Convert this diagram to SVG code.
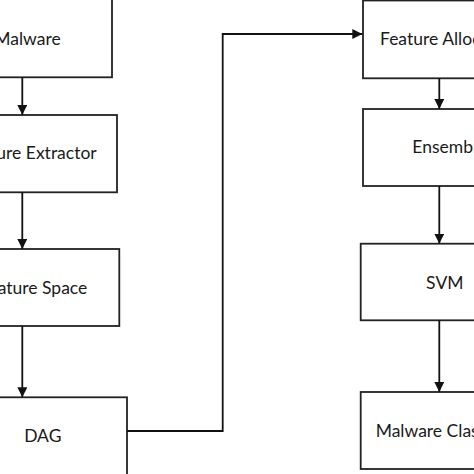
<svg xmlns="http://www.w3.org/2000/svg" width="474" height="474" viewBox="0 0 474 474">
  <defs>
    <style>
      .box { fill: #ffffff; stroke: #222222; stroke-width: 1.8; }
      .lbl { font-family: Lato, "Liberation Sans", sans-serif; font-size: 17.5px; fill: #1a1a1a; }
      .edge { fill: none; stroke: #111111; stroke-width: 1.8; }
    </style>
    <marker id="arrow" markerUnits="userSpaceOnUse" markerWidth="11" markerHeight="11" refX="10" refY="5" orient="auto">
      <path d="M0,0 L10,5 L0,10 Z" fill="#111111"/>
    </marker>
  </defs>
  <rect x="0" y="0" width="474" height="474" fill="#ffffff"/>

  <g id="node-malware">
    <rect class="box" x="-70" y="-1.5" width="182" height="78.8"/>
    <text class="lbl" x="60.7" y="44.8" text-anchor="end">Malware</text>
  </g>
  <g id="node-feature-extractor">
    <rect class="box" x="-70" y="115" width="187" height="77.3"/>
    <text class="lbl" x="96.7" y="159.2" text-anchor="end">Feature Extractor</text>
  </g>
  <g id="node-feature-space">
    <rect class="box" x="-70" y="249" width="189.3" height="77"/>
    <text class="lbl" x="87.3" y="293.8" text-anchor="end">Feature Space</text>
  </g>
  <g id="node-dag">
    <rect class="box" x="-70" y="397.3" width="197" height="100"/>
    <text class="lbl" x="42.8" y="441.8" text-anchor="middle">DAG</text>
  </g>

  <g id="node-feature-allocation">
    <rect class="box" x="363" y="0.5" width="170" height="77.8"/>
    <text class="lbl" x="380" y="45.2">Feature Allocation</text>
  </g>
  <g id="node-ensemble">
    <rect class="box" x="363" y="109" width="170" height="77"/>
    <text class="lbl" x="412.3" y="153.2">Ensemble</text>
  </g>
  <g id="node-svm">
    <rect class="box" x="360.7" y="243.7" width="172" height="76.6"/>
    <text class="lbl" x="444.8" y="288.8" text-anchor="middle">SVM</text>
  </g>
  <g id="node-malware-classification">
    <rect class="box" x="360.7" y="392" width="172" height="77"/>
    <text class="lbl" x="375.7" y="437.2">Malware Classification</text>
  </g>

  <g id="connectors">
    <line class="edge" x1="22.3" y1="77.3" x2="22.3" y2="115" marker-end="url(#arrow)"/>
    <line class="edge" x1="22.3" y1="192.3" x2="22.3" y2="249" marker-end="url(#arrow)"/>
    <line class="edge" x1="22.3" y1="326" x2="22.3" y2="397.3" marker-end="url(#arrow)"/>
    <polyline class="edge" points="127,431 222.7,431 222.7,34 362.3,34" marker-end="url(#arrow)"/>
    <line class="edge" x1="439.3" y1="78.3" x2="439.3" y2="109" marker-end="url(#arrow)"/>
    <line class="edge" x1="439.3" y1="186" x2="439.3" y2="243.7" marker-end="url(#arrow)"/>
    <line class="edge" x1="439.3" y1="320.3" x2="439.3" y2="392" marker-end="url(#arrow)"/>
  </g>
</svg>
